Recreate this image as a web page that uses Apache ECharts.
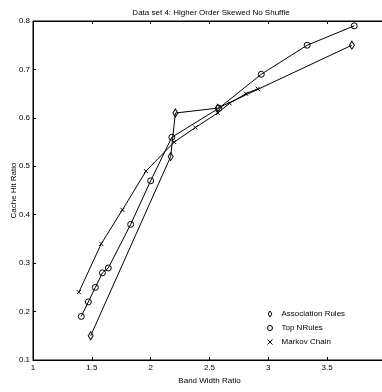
<!DOCTYPE html>
<html><head><meta charset="utf-8">
<script src="https://cdn.jsdelivr.net/npm/echarts@6/dist/echarts.min.js"></script>
<style>html,body{margin:0;padding:0;background:#fff}#c{width:382px;height:392px}</style>
</head><body><div id="c"></div>
<script>
const assocX = [1.49, 2.17, 2.21, 2.57, 3.71];
const assocY = [0.15, 0.52, 0.61, 0.62, 0.75];
const topnX = [1.41, 1.47, 1.53, 1.59, 1.64, 1.83, 2.0, 2.18, 2.58, 2.94, 3.33, 3.73];
const topnY = [0.19, 0.22, 0.25, 0.28, 0.29, 0.38, 0.47, 0.56, 0.62, 0.69, 0.75, 0.79];
const markovX = [1.39, 1.58, 1.76, 1.96, 2.2, 2.38, 2.57, 2.67, 2.81, 2.91];
const markovY = [0.24, 0.34, 0.41, 0.49, 0.55, 0.58, 0.61, 0.63, 0.65, 0.66];
const xTicks = [1, 1.5, 2, 2.5, 3, 3.5, 4];
const yTicks = [0.1, 0.2, 0.3, 0.4, 0.5, 0.6, 0.7, 0.8];
const seriesNames = ['Association Rules', 'Top NRules', 'Markov Chain'];

const zip = (a, b) => a.map((v, i) => [v, b[i]]);
const F = 'Liberation Sans, Arial, sans-serif';
const diamond = 'path://M5 0L10 8L5 16L0 8Z';
const cross = 'path://M0 0L10 10M0 10L10 0';
const mk = { color: 'transparent', borderColor: '#000', borderWidth: 1 };

const chart = echarts.init(document.getElementById('c'));
chart.setOption({
  animation: false,
  backgroundColor: '#fff',
  title: { text: 'Data set 4: Higher Order Skewed No Shuffle', left: 206, textAlign: 'center', top: 4,
    textStyle: { fontFamily: F, fontSize: 8, fontWeight: 'normal', color: '#000' } },
  grid: { left: 33, top: 21, width: 353, bottom: 32, containLabel: false, outerBoundsMode: 'none',
    show: true, borderColor: '#000', borderWidth: 1 },
  legend: {
    orient: 'vertical', left: 262, top: 305, itemGap: 6, itemWidth: 5, itemHeight: 6,
    textStyle: { fontFamily: F, fontSize: 8, color: '#000', padding: [0, 0, 0, 4] },
    data: [
      { name: seriesNames[0], icon: diamond, itemStyle: mk },
      { name: seriesNames[1], icon: 'circle', itemStyle: mk },
      { name: seriesNames[2], icon: cross, itemStyle: mk }
    ]
  },
  xAxis: [{
    type: 'value', min: 1, max: 4, interval: 0.5,
    name: 'Band Width Ratio', nameLocation: 'middle', nameGap: 17,
    nameTextStyle: { fontFamily: F, fontSize: 8, color: '#000' },
    axisLine: { lineStyle: { color: '#000' } },
    axisTick: { inside: true, length: 3, lineStyle: { color: '#000' } },
    axisLabel: { fontFamily: F, fontSize: 8, color: '#000', margin: 4,
      formatter: v => xTicks.includes(+v.toFixed(2)) ? String(+v.toFixed(2)) : '' },
    splitLine: { show: false }
  }, {
    type: 'value', min: 1, max: 4, interval: 0.5, position: 'top',
    axisLine: { lineStyle: { color: '#000' } },
    axisTick: { inside: true, length: 3, lineStyle: { color: '#000' } },
    axisLabel: { show: false }, splitLine: { show: false }
  }],
  yAxis: {
    type: 'value', min: 0.1, max: 0.8, interval: 0.1,
    name: 'Cache Hit Ratio', nameLocation: 'middle', nameGap: 15, nameMoveOverlap: false,
    nameTextStyle: { fontFamily: F, fontSize: 8, color: '#000' },
    axisLine: { show: true, lineStyle: { color: '#000' } },
    axisTick: { show: true, inside: true, length: 3, lineStyle: { color: '#000' } },
    axisLabel: { fontFamily: F, fontSize: 8, color: '#000', margin: 3,
      formatter: v => (+v).toFixed(1) },
    splitLine: { show: false }
  },
  series: [
    { name: seriesNames[0], type: 'line', data: zip(assocX, assocY), symbol: diamond, symbolSize: [5, 8],
      itemStyle: mk, lineStyle: { color: '#000', width: 1 } },
    { name: seriesNames[1], type: 'line', data: zip(topnX, topnY), symbol: 'circle', symbolSize: 6,
      itemStyle: mk, lineStyle: { color: '#000', width: 1 } },
    { name: seriesNames[2], type: 'line', data: zip(markovX, markovY), symbol: cross, symbolSize: 4,
      itemStyle: mk, lineStyle: { color: '#000', width: 1 } }
  ]
});
</script></body></html>
